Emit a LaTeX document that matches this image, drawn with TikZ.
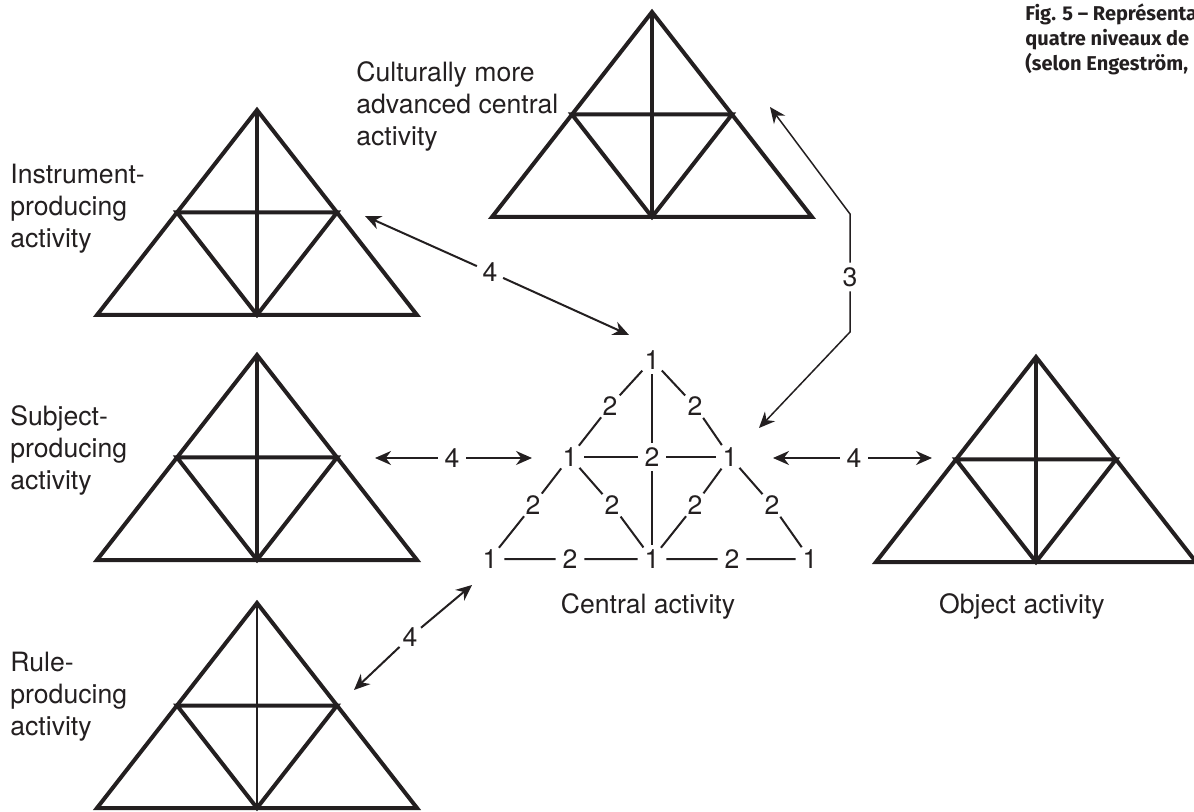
\documentclass[tikz,border=0pt]{standalone}
\usepackage{fontspec}
\setmainfont{TeX Gyre Heros}
\newfontfamily\capfont{Fira Sans}
\usetikzlibrary{arrows.meta}
\definecolor{ink}{RGB}{35,31,32}

\begin{document}
\begin{tikzpicture}[x=0.5pt, y=-0.5pt, color=ink,
   every node/.style={font=\fontsize{13.3}{16}\selectfont},
   tri/.style={line width=2pt},
   num/.style={circle, inner sep=0pt, minimum size=14pt},
   lab/.style={anchor=north west, align=left, inner sep=0pt},
   arr/.style={line width=1pt, -{Stealth[length=8pt, width=7pt]}}]
\useasboundingbox (0,0) rectangle (1194,812);

\foreach \x/\y in {257/110, 652/12, 257/355, 1036/357, 257/603} {
   \draw[tri] (\x,\y) -- ++(-160,205) -- ++(320,0) -- cycle;
   \draw[tri] (\x-80,\y+102.5) -- ++(160,0) -- (\x,\y+205) -- cycle;
}
\foreach \x/\y in {257/110, 652/12, 257/355, 1036/357}
   \draw[tri] (\x,\y) -- (\x,\y+205);
\draw[line width=1pt] (257,603) -- (257,808);

\begin{scope}[every node/.style={num, font=\fontsize{13.3}{16}\selectfont}]
\node (t)  at (652,360) {1};
\node (tl) at (610,406) {2};
\node (tr) at (695,406) {2};
\node (ml) at (570,457) {1};
\node (mc) at (652,457) {2};
\node (mr) at (730,457) {1};
\node (la) at (533,505) {2};
\node (lb) at (612,505) {2};
\node (rb) at (695,505) {2};
\node (ra) at (772,505) {2};
\node (b1) at (490,559) {1};
\node (b2) at (570,559) {2};
\node (b3) at (652,559) {1};
\node (b4) at (732,559) {2};
\node (b5) at (810,559) {1};

\draw[line width=1pt] (t) -- (tl) -- (ml) -- (la) -- (b1) -- (b2) -- (b3) -- (b4) -- (b5) -- (ra) -- (mr) -- (tr) -- (t);
\draw[line width=1pt] (t) -- (mc) -- (b3);
\draw[line width=1pt] (ml) -- (mc) -- (mr);
\draw[line width=1pt] (ml) -- (lb) -- (b3);
\draw[line width=1pt] (mr) -- (rb) -- (b3);

\node (ins4) at (490,272) {4};
\node (sub4) at (452,458) {4};
\node (obj4) at (854,458) {4};
\node (rul4) at (410,637) {4};
\node (cul3) at (850,277) {3};
\end{scope}

\coordinate (insA) at (365,216);
\coordinate (insB) at (629,335);
\coordinate (subA) at (375,458);
\coordinate (subB) at (532,458);
\coordinate (objA) at (773,458);
\coordinate (objB) at (932,458);
\coordinate (rulA) at (472,585);
\coordinate (rulB) at (354,690);
\coordinate (culA) at (770,107);
\coordinate (culK) at (850,214);
\coordinate (culL) at (850,332);
\coordinate (culB) at (759,428);

\foreach \n/\a/\b in {ins4/insA/insB, sub4/subA/subB, obj4/objA/objB, rul4/rulA/rulB} {
   \draw[arr] (\n) -- (\a);
   \draw[arr] (\n) -- (\b);
}
\draw[arr, line width=0.75pt] (cul3) -- (culK) -- (culA);
\draw[arr, line width=0.75pt] (cul3) -- (culL) -- (culB);

\node[lab] (cul) at (356,61) {Culturally more\\advanced central\\activity};
\node[lab] (ins) at (10,164) {Instrument-\\producing\\activity};
\node[lab] (sub) at (10,405) {Subject-\\producing\\activity};
\node[lab] (rul) at (10,652) {Rule-\\producing\\activity};
\node[anchor=base] (cen) at (648,613) {Central activity};
\node[anchor=base] (obj) at (1022,613) {Object activity};

\node[lab, font=\capfont\bfseries\fontsize{10}{12.6}\selectfont] (cap) at (1025,3)
   {Fig. 5 – Représenta\\quatre niveaux de\\(selon Engeström,};
\end{tikzpicture}
\end{document}
